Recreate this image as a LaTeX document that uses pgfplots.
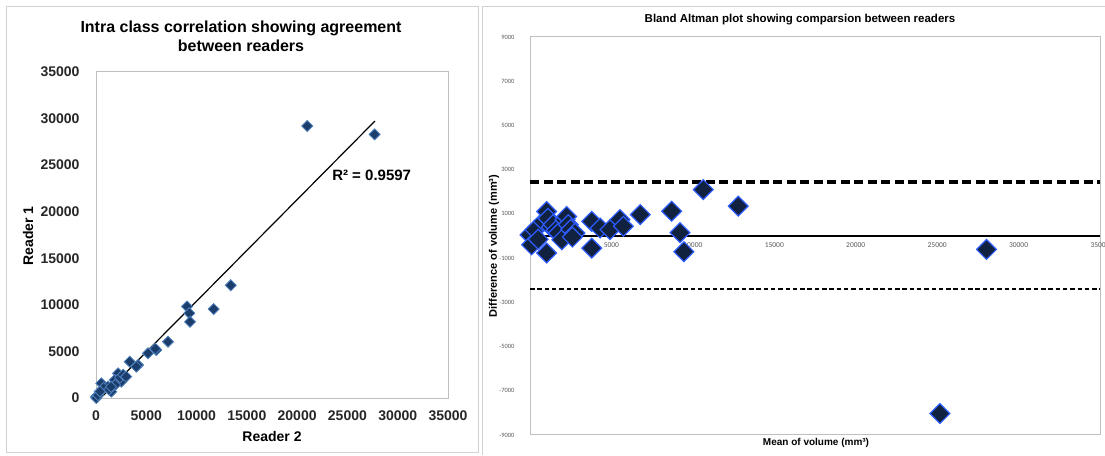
\documentclass[border=0pt]{standalone}
\usepackage{fontspec}
\setmainfont{Liberation Sans}
\newfontfamily\carlito{Carlito}
\usepackage{pgfplots}
\usepackage{pgfplotstable}
\pgfplotsset{compat=1.18}
\definecolor{lfill}{HTML}{1B3D6B}
\definecolor{ledge}{HTML}{4F81BD}
\definecolor{rfill}{HTML}{10223F}
\definecolor{redge}{HTML}{2D5BFF}
\definecolor{framegray}{HTML}{BFBFBF}
\definecolor{ticktext}{HTML}{595959}

% Reader 2 (x) vs Reader 1 (y)
\pgfplotstableread{
x y
21000 29200
27700 28300
13400 12100
11700 9550
9050 9820
9280 9100
9350 8180
7160 6040
6000 5150
5900 5290
5170 4800
3350 3900
4180 3540
4010 3360
2850 2290
2520 1750
2190 2650
1860 1930
2400 2200
1900 1400
1520 680
530 1580
700 1040
370 680
1190 1220
0 140
30 0
760 1070
200 300
400 700
1300 900
2700 2500
3000 2300
1500 1200
}\iccdata

% Mean of volume (x) vs difference (y)
\pgfplotstableread{
x y
0 55
100 -400
310 280
500 -150
820 660
1020 1110
1020 -770
1100 800
1300 400
1420 520
1600 250
1740 130
1950 -170
2150 740
2250 880
2350 510
2500 300
2760 130
2600 -50
3790 660
3790 -550
4300 360
4910 290
5520 740
5730 440
6770 970
8700 1120
9210 150
9450 -710
10640 2100
12790 1350
25170 -8030
28030 -610
}\badata

\begin{document}
\begin{tikzpicture}[x=1pt,y=1pt]
\path[use as bounding box] (0,0) rectangle (1105,455);
% panel frames
\draw[framegray!70, line width=1pt] (6,3) rectangle (478,448);
\draw[framegray!70, line width=1pt] (482,0) -- (482,448) -- (1105,448);

% ---------- Left panel ----------
\node[align=center, font=\bfseries\fontsize{16}{19}\selectfont] at (241,419)
  {Intra class correlation showing agreement\\between readers};
\node[rotate=90, font=\bfseries\fontsize{14}{16}\selectfont] at (28,219) {Reader 1};
\node[font=\bfseries\fontsize{14}{16}\selectfont] at (272,19) {Reader 2};

\begin{axis}[
  at={(96pt,57pt)}, anchor=south west,
  scale only axis, width=352pt, height=326pt,
  xmin=0, xmax=35000, ymin=0, ymax=35000,
  xtick={0,5000,...,35000}, ytick={0,5000,...,35000},
  scaled ticks=false,
  /pgf/number format/1000 sep={},
  /pgf/number format/assume math mode=true,
  major tick length=0pt,
  axis line style={framegray, line width=1pt},
  tick label style={font=\bfseries\fontsize{14}{16}\selectfont, text=black!85},
  yticklabel style={xshift=-13pt},
  xticklabel style={yshift=-9pt},
  clip=true,
]
\addplot[black, line width=1.2pt] coordinates {(470,0) (27740,29740)};
\addplot[only marks, mark=square*, mark size=3.9pt,
  mark options={rotate=45, fill=lfill, draw=ledge, line width=0.8pt}]
  table[x=x, y=y] {\iccdata};
\node[font=\bfseries\fontsize{15}{17}\selectfont] at (axis cs:27410,23940) {R² = 0.9597};
\end{axis}

% ---------- Right panel ----------
\node[font=\bfseries\fontsize{11.5}{13}\selectfont] at (800,435)
  {Bland Altman plot showing comparsion between readers};
\node[rotate=90, font=\bfseries\fontsize{11}{13}\selectfont] at (494,209) {Difference of volume (mm³)};
\node[font=\bfseries\fontsize{10}{12}\selectfont] at (816,12) {Mean of volume (mm³)};

\begin{axis}[
  at={(530pt,20pt)}, anchor=south west,
  scale only axis, width=570pt, height=398pt,
  xmin=0, xmax=35000, ymin=-9000, ymax=9000,
  xtick={5000,10000,...,35000},
  ytick={-9000,-7000,...,9000},
  scaled ticks=false,
  /pgf/number format/1000 sep={},
  /pgf/number format/assume math mode=true,
  major tick length=0pt,
  axis line style={framegray, line width=1pt},
  xticklabel style={font=\carlito\fontsize{7.5}{9}\selectfont, text=ticktext, yshift=195.7pt},
  yticklabel style={font=\carlito\fontsize{6.5}{7.5}\selectfont, text=ticktext, xshift=-12pt},
  clip=false,
]
\addplot[black, line width=3.5pt, dash pattern=on 9pt off 4.5pt] coordinates {(0,2440) (35000,2440)};
\addplot[black, line width=2pt] coordinates {(0,20) (35000,20)};
\addplot[black, line width=2pt, dash pattern=on 4.5pt off 2.8pt] coordinates {(0,-2400) (35000,-2400)};
\addplot[only marks, mark=square*, mark size=7pt,
  mark options={rotate=45, fill=rfill, draw=redge, line width=1.2pt}]
  table[x=x, y=y] {\badata};
\end{axis}
\end{tikzpicture}
\end{document}
